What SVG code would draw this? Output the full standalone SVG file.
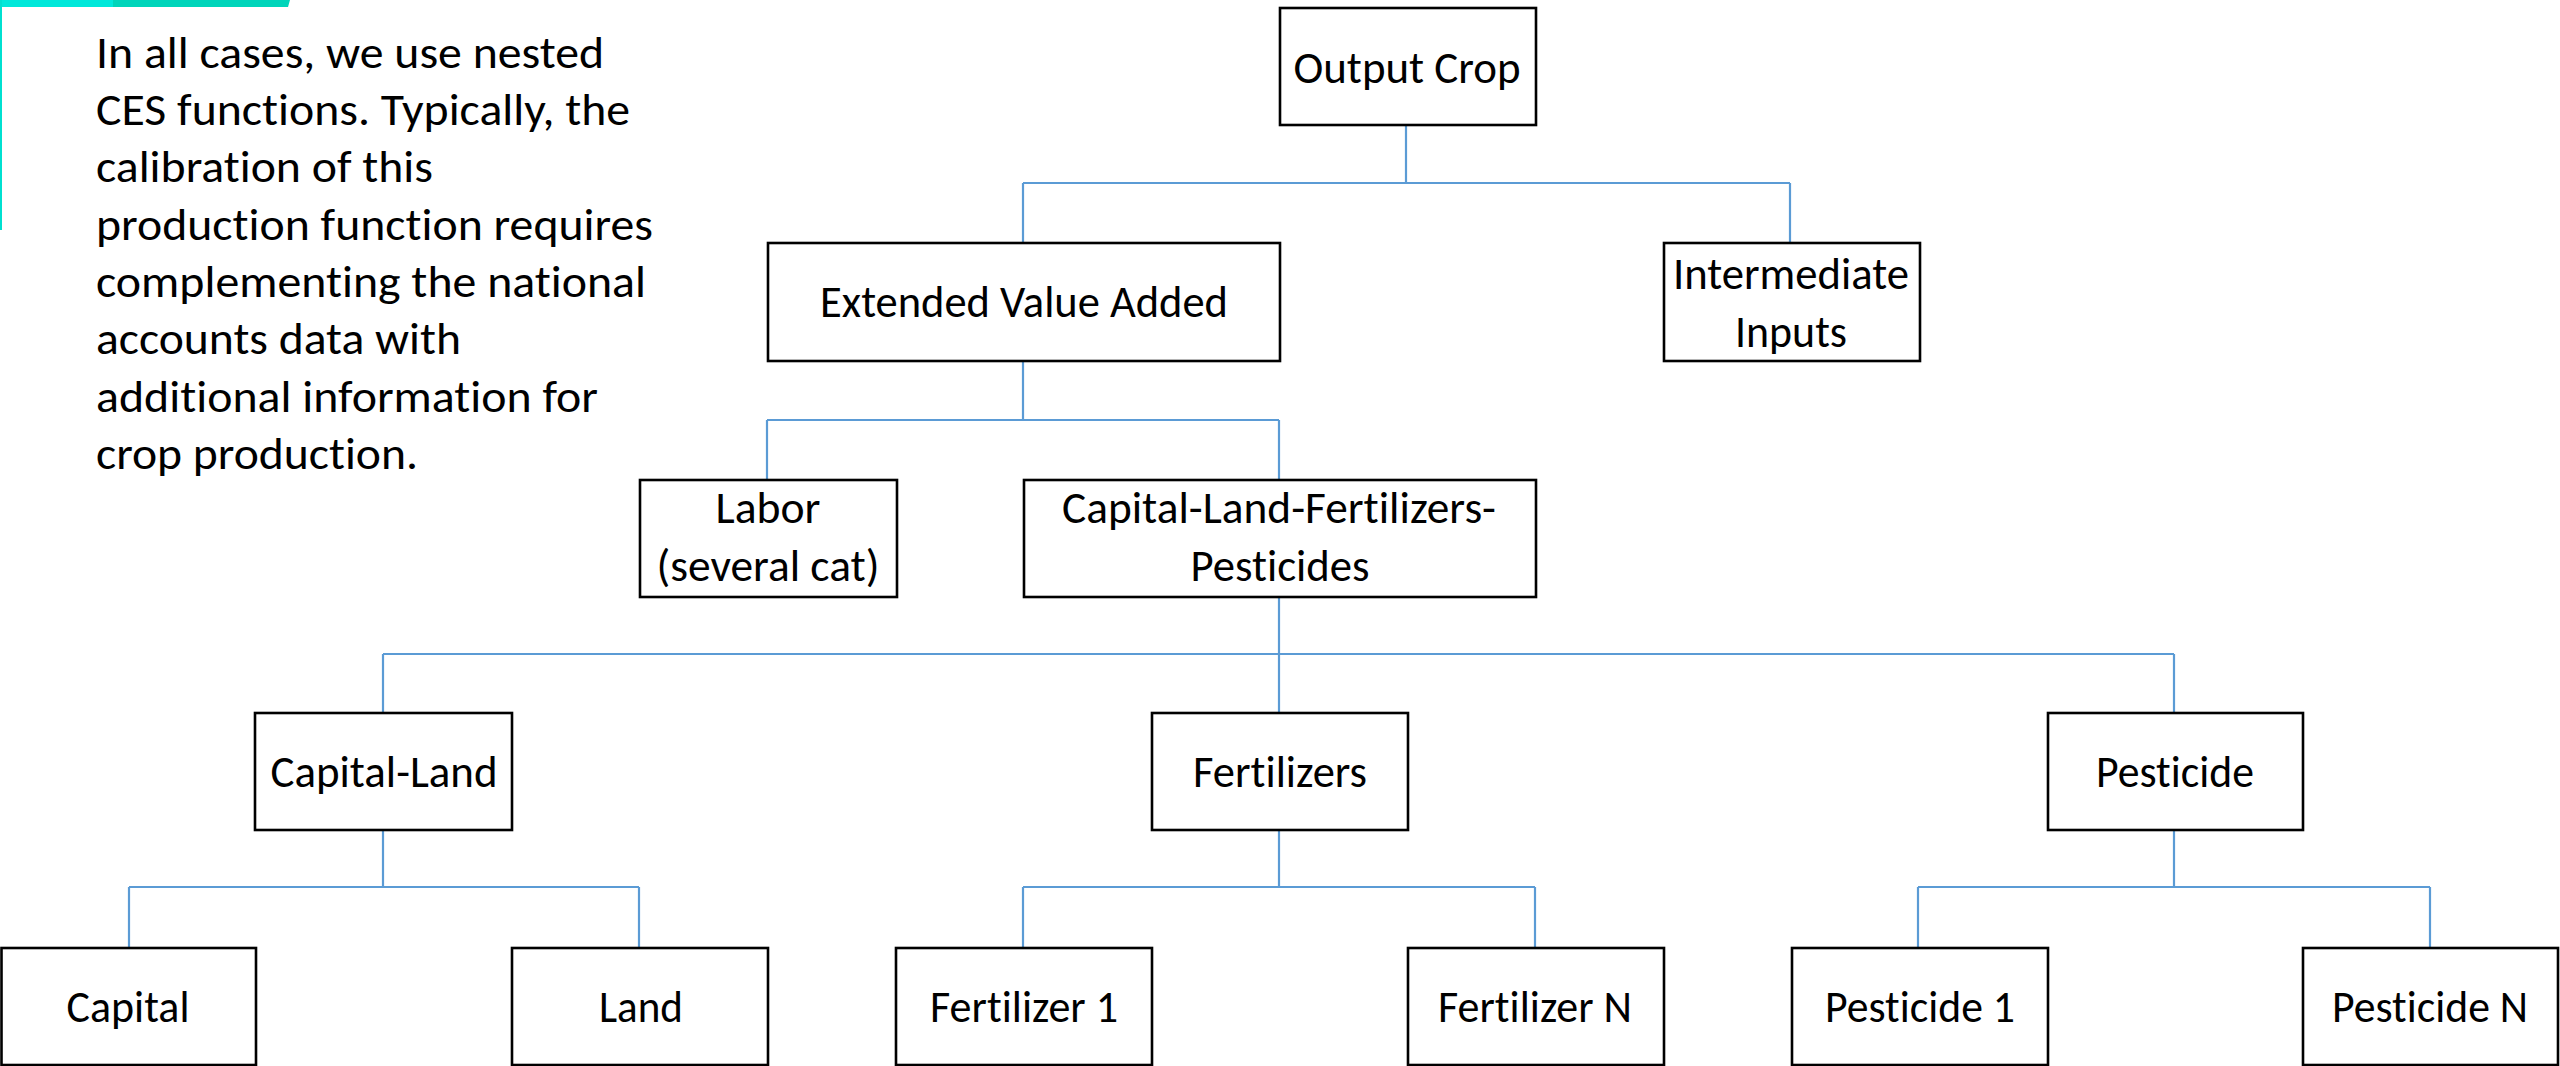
<svg xmlns="http://www.w3.org/2000/svg" width="2560" height="1066" viewBox="0 0 2560 1066">
<style>
.box{fill:#ffffff;stroke:#000000;stroke-width:2.6}
.t{font-family:Carlito,Calibri,Lato,"Liberation Sans",sans-serif;font-size:46px;fill:#000000;text-anchor:middle;font-variant-ligatures:none}
.p{font-family:Carlito,Calibri,Lato,"Liberation Sans",sans-serif;font-size:46px;fill:#000000;font-variant-ligatures:none}
.c{stroke:#5B9BD5;stroke-width:2.2;fill:none}
</style>
<rect x="0" y="0" width="2560" height="1066" fill="#ffffff"/>
<g id="decoration">
<rect x="0" y="0" width="114" height="7" fill="#00E8DA"/>
<polygon points="113,0 290,0 288,7 113,7" fill="#00D5BA"/>
<rect x="0" y="0" width="2" height="230" fill="#00E0D0"/>
</g>
<g id="note">
<text class="p" x="96" y="68" textLength="508" lengthAdjust="spacingAndGlyphs">In all cases, we use nested</text>
<text class="p" x="96" y="125" textLength="534" lengthAdjust="spacingAndGlyphs">CES functions. Typically, the</text>
<text class="p" x="96" y="182" textLength="337" lengthAdjust="spacingAndGlyphs">calibration of this</text>
<text class="p" x="96" y="240" textLength="557" lengthAdjust="spacingAndGlyphs">production function requires</text>
<text class="p" x="96" y="297" textLength="550" lengthAdjust="spacingAndGlyphs">complementing the national</text>
<text class="p" x="96" y="354" textLength="365" lengthAdjust="spacingAndGlyphs">accounts data with</text>
<text class="p" x="96" y="412" textLength="502" lengthAdjust="spacingAndGlyphs">additional information for</text>
<text class="p" x="96" y="469" textLength="322" lengthAdjust="spacingAndGlyphs">crop production.</text>
</g>
<g id="connectors">
<path class="c" d="M1406,125V183M1023,183H1790M1023,183V243M1790,183V243"/>
<path class="c" d="M1023,361V420M767,420H1279M767,420V480M1279,420V480"/>
<path class="c" d="M1279,597V713M383,654H2174M383,654V713M2174,654V713"/>
<path class="c" d="M383,830V887M129,887H639M129,887V948M639,887V948"/>
<path class="c" d="M1279,830V887M1023,887H1535M1023,887V948M1535,887V948"/>
<path class="c" d="M2174,830V887M1918,887H2430M1918,887V948M2430,887V948"/>
</g>
<g id="output-crop"><rect class="box" x="1280" y="8" width="256" height="117"/><text class="t" x="1407" y="83" textLength="227" lengthAdjust="spacingAndGlyphs">Output Crop</text></g>
<g id="extended-value-added"><rect class="box" x="768" y="243" width="512" height="118"/><text class="t" x="1024" y="317" textLength="408" lengthAdjust="spacingAndGlyphs">Extended Value Added</text></g>
<g id="intermediate-inputs"><rect class="box" x="1664" y="243" width="256" height="118"/><text class="t" x="1791" y="289" textLength="236" lengthAdjust="spacingAndGlyphs">Intermediate</text><text class="t" x="1791" y="347" textLength="112" lengthAdjust="spacingAndGlyphs">Inputs</text></g>
<g id="labor"><rect class="box" x="640" y="480" width="257" height="117"/><text class="t" x="768" y="523" textLength="105" lengthAdjust="spacingAndGlyphs">Labor</text><text class="t" x="768" y="581" textLength="223" lengthAdjust="spacingAndGlyphs">(several cat)</text></g>
<g id="capital-land-fertilizers-pesticides"><rect class="box" x="1024" y="480" width="512" height="117"/><text class="t" x="1279" y="523" textLength="434" lengthAdjust="spacingAndGlyphs">Capital-Land-Fertilizers-</text><text class="t" x="1280" y="581" textLength="179" lengthAdjust="spacingAndGlyphs">Pesticides</text></g>
<g id="capital-land"><rect class="box" x="255" y="713" width="257" height="117"/><text class="t" x="384" y="787" textLength="227" lengthAdjust="spacingAndGlyphs">Capital-Land</text></g>
<g id="fertilizers"><rect class="box" x="1152" y="713" width="256" height="117"/><text class="t" x="1280" y="787" textLength="174" lengthAdjust="spacingAndGlyphs">Fertilizers</text></g>
<g id="pesticide"><rect class="box" x="2048" y="713" width="255" height="117"/><text class="t" x="2175" y="787" textLength="158" lengthAdjust="spacingAndGlyphs">Pesticide</text></g>
<g id="capital"><rect class="box" x="1.5" y="948" width="254.5" height="117"/><text class="t" x="128" y="1022" textLength="123" lengthAdjust="spacingAndGlyphs">Capital</text></g>
<g id="land"><rect class="box" x="512" y="948" width="256" height="117"/><text class="t" x="641" y="1022" textLength="84" lengthAdjust="spacingAndGlyphs">Land</text></g>
<g id="fertilizer-1"><rect class="box" x="896" y="948" width="256" height="117"/><text class="t" x="1024" y="1022" textLength="188" lengthAdjust="spacingAndGlyphs">Fertilizer 1</text></g>
<g id="fertilizer-n"><rect class="box" x="1408" y="948" width="256" height="117"/><text class="t" x="1535" y="1022" textLength="194" lengthAdjust="spacingAndGlyphs">Fertilizer N</text></g>
<g id="pesticide-1"><rect class="box" x="1792" y="948" width="256" height="117"/><text class="t" x="1920" y="1022" textLength="190" lengthAdjust="spacingAndGlyphs">Pesticide 1</text></g>
<g id="pesticide-n"><rect class="box" x="2303" y="948" width="255" height="117"/><text class="t" x="2430" y="1022" textLength="196" lengthAdjust="spacingAndGlyphs">Pesticide N</text></g>
</svg>
